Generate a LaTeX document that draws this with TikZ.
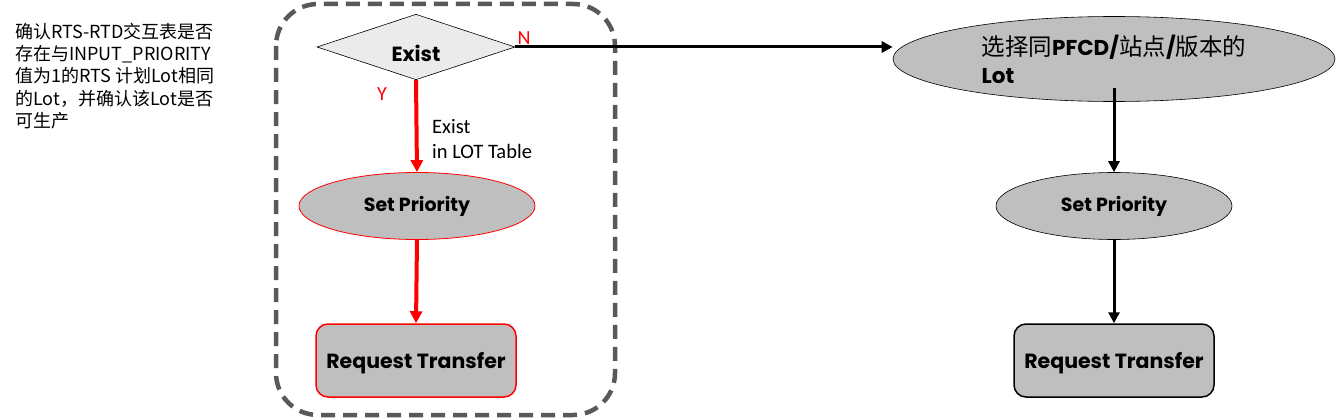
\documentclass[tikz,border=0pt]{standalone}
\usepackage{fontspec}
\setmainfont{Poppins}
\newfontfamily\cjk{Noto Sans CJK SC}
\newfontfamily\cali{Carlito}
\usetikzlibrary{shapes.geometric,arrows.meta}
\definecolor{boxgray}{HTML}{BFBFBF}
\definecolor{dgray}{HTML}{EBEBEB}
\definecolor{dashgray}{HTML}{595959}
\definecolor{myred}{HTML}{FF0000}
\begin{document}
\begin{tikzpicture}[x=1pt,y=-1pt,
  oval/.style={ellipse, fill=boxgray, minimum width=236, minimum height=67, inner sep=0, font=\bfseries\fontsize{19}{22}\selectfont},
  rbox/.style={rounded corners=12, fill=boxgray, minimum width=200, minimum height=73, inner sep=0, font=\bfseries\fontsize{20.5}{24}\selectfont, line width=1.5pt},
  redarr/.style={draw=myred, line width=4, -{Triangle[length=12,width=12]}},
  blkarr/.style={draw=black, line width=3, -{Triangle[length=11,width=11]}},
  yn/.style={text=myred, font=\cali\fontsize{20}{22}\selectfont, inner sep=0}
]
\useasboundingbox (0,0) rectangle (1336,420);

% left note
\node[anchor=north west, align=left, inner sep=0, font=\cjk\fontsize{18}{22.2}\selectfont] (note) at (15,23)
 {确认RTS-RTD交互表是否\\存在与INPUT\_PRIORITY\\值为1的RTS 计划Lot相同\\的Lot，并确认该Lot是否\\可生产};

% dashed group
\draw[dashgray, line width=4.5, dash pattern=on 14 off 8, rounded corners=42] (276,4) rectangle (615,415);

% left column
\node[diamond, draw=black, line width=0.6, fill=dgray, minimum width=198, minimum height=60, inner sep=0, font=\bfseries\fontsize{20.5}{24}\selectfont] (exist) at (416,47) {\raisebox{-6pt}[\height][\depth]{Exist}};
\node[oval, draw=myred, line width=0.8] (sp1) at (417,206) {Set Priority};
\node[rbox, draw=myred] (rt1) at (416,360.5) {\raisebox{-3pt}[\height][\depth]{Request Transfer}};

\draw[redarr] (exist.south) -- (sp1.north);
\draw[redarr] (sp1.south) -- (rt1.north);

\node[yn] (ylbl) at (382,94) {Y};
\node[yn] (nlbl) at (524,38) {N};
\node[anchor=north west, align=left, inner sep=0, font=\cali\fontsize{20.5}{25}\selectfont] (cond) at (432,119) {Exist\\in LOT Table};

% right column
\node[ellipse, fill=boxgray, draw=black, line width=0.6, minimum width=442, minimum height=85, inner sep=0, align=left,
      font=\bfseries\fontsize{21.5}{28}\selectfont] (lot) at (1114,59) {{\cjk\mdseries\fontsize{23.5}{28}\selectfont 选择同}PFCD/{\cjk\mdseries\fontsize{23.5}{28}\selectfont 站点}/{\cjk\mdseries\fontsize{23.5}{28}\selectfont 版本的}\\Lot};
\node[oval, draw=black, line width=0.6] (sp2) at (1114,206) {Set Priority};
\node[rbox, draw=black] (rt2) at (1114,360.5) {\raisebox{-3pt}[\height][\depth]{Request Transfer}};

\coordinate (lotout) at (1114,88);
\draw[blkarr] (exist.east) -- (exist.east -| lot.west);
\draw[blkarr] (lotout) -- (sp2.north);
\draw[blkarr] (sp2.south) -- (rt2.north);
\end{tikzpicture}
\end{document}
